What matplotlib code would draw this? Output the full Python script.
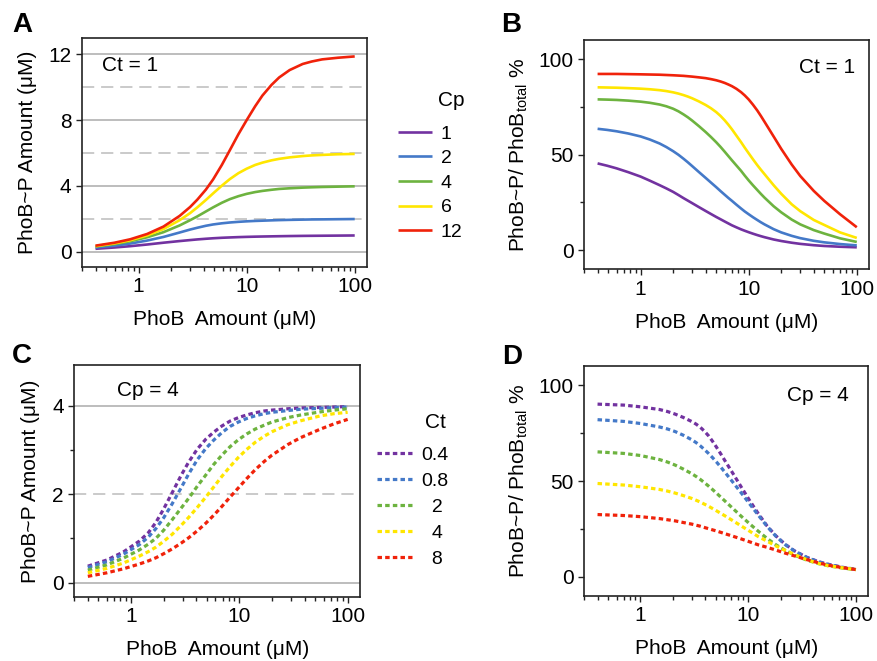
import matplotlib
matplotlib.use("Agg")
import matplotlib.pyplot as plt
from matplotlib.lines import Line2D
from matplotlib.ticker import LogLocator, NullFormatter

plt.rcParams["font.family"] = ["Liberation Sans", "DejaVu Sans"]
plt.rcParams["mathtext.fontset"] = "custom"
plt.rcParams["mathtext.rm"] = "Liberation Sans"
plt.rcParams["mathtext.default"] = "regular"

# ── panel A: PhoB~P (uM) vs PhoB, Ct = 1, one curve per Cp ──────────────
a_phob = [0.4, 0.6, 0.84, 1.2, 1.7, 2.4, 3, 3.5, 4.2, 4.9, 5.9, 7, 8.4, 10,
          12, 14, 17, 20, 25, 33, 40, 50, 70, 100]
a_cp1 = [0.18, 0.26, 0.34, 0.44, 0.55, 0.65, 0.71, 0.75, 0.79, 0.82, 0.85, 0.87,
         0.89, 0.905, 0.918, 0.927, 0.937, 0.945, 0.955, 0.965, 0.97, 0.975, 0.982, 0.99]
a_cp2 = [0.26, 0.37, 0.50, 0.68, 0.90, 1.17, 1.35, 1.46, 1.58, 1.66, 1.73, 1.78,
         1.82, 1.85, 1.875, 1.89, 1.91, 1.925, 1.94, 1.955, 1.965, 1.97, 1.98, 1.99]
a_cp4 = [0.32, 0.47, 0.64, 0.88, 1.19, 1.60, 1.92, 2.15, 2.45, 2.70, 2.98, 3.20,
         3.38, 3.52, 3.63, 3.70, 3.77, 3.82, 3.86, 3.90, 3.92, 3.94, 3.96, 3.98]
a_cp6 = [0.34, 0.51, 0.70, 0.99, 1.38, 1.92, 2.35, 2.70, 3.15, 3.55, 4.02, 4.42,
         4.78, 5.05, 5.28, 5.42, 5.56, 5.65, 5.74, 5.82, 5.86, 5.89, 5.93, 5.95]
a_cp12 = [0.37, 0.55, 0.76, 1.08, 1.53, 2.18, 2.72, 3.17, 3.78, 4.40, 5.28, 6.18,
          7.15, 8.00, 8.85, 9.50, 10.15, 10.60, 11.05, 11.42, 11.57, 11.70, 11.80, 11.88]

# ── panel B: PhoB~P / PhoB total (%), Ct = 1 ───────────────────────────────
b_phob = [0.4, 0.49, 0.6, 0.77, 1, 1.22, 1.5, 1.73, 2, 2.24, 2.5, 2.74, 3, 3.46,
          4, 4.47, 5, 5.48, 6, 6.48, 7, 7.7, 8.5, 9.2, 10, 10.95, 12, 12.96, 14,
          17, 20, 25, 30, 40, 50, 70, 100]
b_cp1 = [45.4, 44.19, 42.8, 40.8, 38.5, 36.34, 34.0, 32.32, 30.5, 28.85, 27.2,
         25.9, 24.6, 22.55, 20.5, 18.95, 17.4, 16.2, 15.0, 14.0, 13.0, 11.95, 10.9,
         10.15, 9.4, 8.63, 7.9, 7.33, 6.8, 5.6, 4.8, 3.9, 3.3, 2.6, 2.2, 1.8, 1.5]
b_cp2 = [63.5, 62.93, 62.2, 61.04, 59.5, 57.87, 55.8, 53.96, 51.8, 49.9, 47.8,
         45.94, 44.0, 40.9, 37.8, 35.4, 33.0, 30.95, 29.0, 27.35, 25.8, 23.8, 21.8,
         20.25, 18.8, 17.25, 15.8, 14.6, 13.5, 11.0, 9.3, 7.5, 6.3, 4.9, 4.1, 3.2, 2.5]
b_cp4 = [78.9, 78.77, 78.6, 78.24, 77.7, 77.1, 76.2, 75.28, 74.0, 72.64, 71.0,
         69.49, 67.8, 64.91, 61.8, 59.24, 56.5, 54.08, 51.5, 49.25, 47.0, 44.3, 41.5,
         39.0, 36.5, 33.95, 31.5, 29.45, 27.5, 23.0, 19.8, 16.0, 13.5, 10.5, 8.7, 6.2, 4.3]
b_cp6 = [85.2, 85.1, 85.0, 84.78, 84.5, 84.18, 83.71, 83.23, 82.58, 81.92, 81.12,
         80.35, 79.46, 77.84, 75.96, 74.28, 72.27, 70.26, 67.92, 65.68, 63.23, 59.93,
         56.51, 53.6, 50.69, 47.55, 44.5, 42.1, 39.8, 34.0, 29.5, 24.0, 20.4, 15.8,
         13.2, 9.3, 6.4]
b_cp12 = [92.2, 92.2, 92.2, 92.1, 92.0, 91.9, 91.8, 91.65, 91.5, 91.35, 91.2,
          91.0, 90.8, 90.42, 90.0, 89.5, 88.9, 88.27, 87.5, 86.69, 85.8, 84.43, 82.67,
          80.95, 78.85, 76.13, 73.1, 70.23, 67.2, 59.5, 53.0, 44.8, 38.8, 31.0, 25.8,
          18.8, 12.0]

# ── panel C: PhoB~P (uM) vs PhoB, Cp = 4, one curve per Ct ───────────────
c_phob = [0.4, 0.6, 0.85, 1.2, 1.45, 1.7, 2, 2.4, 2.9, 3.4, 4.1, 4.9, 5.8, 6.9,
          8.2, 9.8, 11.7, 14, 17, 20, 28, 37, 56, 75, 100]
c_ct04 = [0.37, 0.51, 0.69, 0.94, 1.13, 1.36, 1.66, 2.03, 2.42, 2.72, 3.02, 3.24,
          3.40, 3.54, 3.65, 3.73, 3.79, 3.84, 3.88, 3.90, 3.93, 3.95, 3.96, 3.97, 3.98]
c_ct08 = [0.34, 0.47, 0.64, 0.86, 1.03, 1.22, 1.46, 1.78, 2.14, 2.45, 2.78, 3.03,
          3.22, 3.39, 3.53, 3.63, 3.71, 3.77, 3.82, 3.85, 3.89, 3.92, 3.94, 3.96, 3.97]
c_ct2 = [0.28, 0.40, 0.55, 0.74, 0.87, 1.00, 1.18, 1.42, 1.68, 1.90, 2.18, 2.43,
         2.67, 2.88, 3.07, 3.23, 3.36, 3.47, 3.56, 3.63, 3.73, 3.79, 3.86, 3.90, 3.93]
c_ct4 = [0.22, 0.32, 0.44, 0.60, 0.70, 0.80, 0.93, 1.09, 1.29, 1.47, 1.70, 1.93,
         2.16, 2.40, 2.62, 2.83, 3.01, 3.17, 3.31, 3.41, 3.57, 3.66, 3.77, 3.82, 3.85]
c_ct8 = [0.14, 0.22, 0.31, 0.42, 0.49, 0.56, 0.65, 0.76, 0.89, 1.01, 1.17, 1.34,
         1.52, 1.72, 1.93, 2.14, 2.35, 2.55, 2.74, 2.88, 3.12, 3.28, 3.47, 3.59, 3.69]

# ── panel D: PhoB~P / PhoB total (%), Cp = 4 ───────────────────────────────
d_phob = [0.4, 0.7, 1, 1.5, 1.78, 2.1, 2.5, 3, 3.29, 3.6, 3.93, 4.3, 4.68, 5.1,
          5.58, 6.1, 7.3, 8.7, 10.4, 12.4, 15, 18, 22, 27, 35, 45, 55, 75, 100]
d_ct04 = [90.1, 89.6, 88.7, 87.3, 86.26, 84.9, 83.16, 81.0, 79.66, 78.0, 75.96,
          73.5, 70.64, 67.5, 64.05, 60.5, 53.5, 46.5, 39.5, 33.0, 26.5, 21.5, 17.0,
          13.5, 10.2, 7.9, 6.6, 5.0, 3.9]
d_ct08 = [82.0, 81.1, 80.0, 78.2, 77.16, 75.8, 73.88, 71.5, 70.02, 68.3, 66.4,
          64.3, 62.13, 59.8, 57.2, 54.5, 49.0, 43.5, 37.8, 32.2, 26.3, 21.3, 16.9,
          13.4, 10.1, 7.8, 6.5, 4.9, 3.9]
d_ct2 = [65.2, 64.4, 63.3, 61.2, 59.91, 58.3, 56.22, 53.8, 52.36, 50.8, 49.11,
         47.3, 45.49, 43.6, 41.55, 39.5, 35.4, 31.4, 27.5, 23.8, 20.0, 16.8, 13.9,
         11.3, 8.7, 6.9, 5.8, 4.6, 3.8]
d_ct4 = [48.7, 47.9, 47.0, 45.6, 44.75, 43.7, 42.4, 40.9, 39.95, 39.0, 37.9,
         36.8, 35.6, 34.4, 33.1, 31.8, 29.1, 26.4, 23.7, 21.0, 18.6, 16.2, 13.8,
         11.6, 9.0, 7.0, 5.9, 4.7, 3.8]
d_ct8 = [32.5, 32.0, 31.4, 30.4, 29.8, 29.2, 28.35, 27.5, 26.95, 26.4, 25.75,
         25.1, 24.5, 23.9, 23.2, 22.5, 21.1, 19.7, 18.2, 16.7, 15.4, 14.0, 12.4,
         10.9, 9.0, 7.3, 6.1, 4.8, 3.8]

cp_labels = ["1", "2", "4", "6", "12"]
ct_labels = ["0.4", "0.8", "\u20072", "\u20074", "\u20078"]
colors = ["#7232a0", "#4479c8", "#6db33f", "#ffe600", "#f0220a"]

FS = 15
SOLID = dict(lw=1.9, solid_capstyle="butt")
DOT = dict(lw=2.3, linestyle=(0, (1.4, 1.0)), dash_capstyle="butt")


def _frame(ax, ylim, yticks, yminor=()):
    ax.set_xscale("log")
    ax.set_xlim(0.3, 130)
    ax.set_ylim(*ylim)
    ax.set_xticks([1, 10, 100])
    ax.set_xticklabels(["1", "10", "100"])
    ax.xaxis.set_minor_locator(LogLocator(base=10, subs=[2, 3, 4, 5, 6, 7, 8, 9]))
    ax.xaxis.set_minor_formatter(NullFormatter())
    ax.set_yticks(yticks)
    ax.set_yticks(list(yminor), minor=True)
    ax.tick_params(which="both", direction="out", width=1.0, labelsize=FS,
                   color="#222222")
    ax.tick_params(which="major", length=4.5, pad=3)
    ax.tick_params(which="minor", length=3)
    for s in ax.spines.values():
        s.set_linewidth(1.2)
        s.set_color("#222222")
    ax.set_xlabel("PhoB  Amount (μM)", fontsize=FS, labelpad=10)


def _grid(ax, solid, dashed):
    for v in solid:
        ax.axhline(v, color="#ababab", lw=1.1, zorder=0)
    for v in dashed:
        ax.axhline(v, color="#bcbcbc", lw=1.1, linestyle=(0, (8, 4.5)), zorder=0)


fig = plt.figure(figsize=(8.77, 6.61), dpi=100)
axA = fig.add_axes([0.0935, 0.596, 0.325, 0.3465])
axB = fig.add_axes([0.666, 0.5926, 0.325, 0.347])
axC = fig.add_axes([0.0847, 0.0973, 0.3258, 0.3505])
axD = fig.add_axes([0.666, 0.0983, 0.324, 0.348])

# A
_frame(axA, (-0.93, 13.0), [0, 4, 8, 12])
_grid(axA, [0, 4, 8, 12], [2, 6, 10])
for ys, c in zip([a_cp1, a_cp2, a_cp4, a_cp6, a_cp12], colors):
    axA.plot(a_phob, ys, color=c, **SOLID)
axA.set_ylabel("PhoB~P Amount (μM)", fontsize=FS, labelpad=8.5)
axA.text(0.07, 0.88, "Ct = 1", transform=axA.transAxes, fontsize=FS,
         ha="left", va="center")

# B
_frame(axB, (-10, 110), [0, 50, 100], [25, 75])
for ys, c in zip([b_cp1, b_cp2, b_cp4, b_cp6, b_cp12], colors):
    axB.plot(b_phob, ys, color=c, **SOLID)
axB.set_ylabel("PhoB~P/ PhoB$_{total}$ %", fontsize=FS, labelpad=6)
axB.text(0.95, 0.88, "Ct = 1", transform=axB.transAxes, fontsize=FS,
         ha="right", va="center")

# C
_frame(axC, (-0.32, 4.92), [0, 2, 4], [1, 3])
_grid(axC, [0, 4], [2])
for ys, c in zip([c_ct04, c_ct08, c_ct2, c_ct4, c_ct8], colors):
    axC.plot(c_phob, ys, color=c, **DOT)
axC.set_ylabel("PhoB~P Amount (μM)", fontsize=FS, labelpad=9)
axC.text(0.15, 0.89, "Cp = 4", transform=axC.transAxes, fontsize=FS,
         ha="left", va="center")

# D
_frame(axD, (-10, 110), [0, 50, 100], [25, 75])
for ys, c in zip([d_ct04, d_ct08, d_ct2, d_ct4, d_ct8], colors):
    axD.plot(d_phob, ys, color=c, **DOT)
axD.set_ylabel("PhoB~P/ PhoB$_{total}$ %", fontsize=FS, labelpad=6)
axD.text(0.93, 0.87, "Cp = 4", transform=axD.transAxes, fontsize=FS,
         ha="right", va="center")

# legends sit between the columns; titles placed as plain text above them
hA = [Line2D([], [], color=c, **SOLID) for c in colors]
fig.legend(hA, cp_labels, loc="upper left",
           bbox_to_anchor=(398 / 877, 1 - 125 / 661), frameon=False,
           fontsize=14, handlelength=1.75, handletextpad=0.45,
           labelspacing=0.36, borderpad=0, borderaxespad=0)
fig.text(451 / 877, 1 - 100 / 661, "Cp", fontsize=FS, ha="center", va="center")

hC = [Line2D([], [], color=c, **DOT) for c in colors]
fig.legend(hC, ct_labels, loc="upper left",
           bbox_to_anchor=(377 / 877, 1 - 446 / 661), frameon=False,
           fontsize=14, handlelength=1.8, handletextpad=0.45,
           labelspacing=0.44, borderpad=0, borderaxespad=0)
fig.text(435 / 877, 1 - 423 / 661, "Ct", fontsize=FS, ha="center", va="center")

# panel letters
for lbl, (px, py) in zip("ABCD", [(12, 12), (501, 12), (12, 343), (502, 344)]):
    fig.text(px / 877, 1 - py / 661, lbl, fontsize=20, fontweight="bold",
             ha="left", va="top")

fig.savefig("out.png", dpi=100)
